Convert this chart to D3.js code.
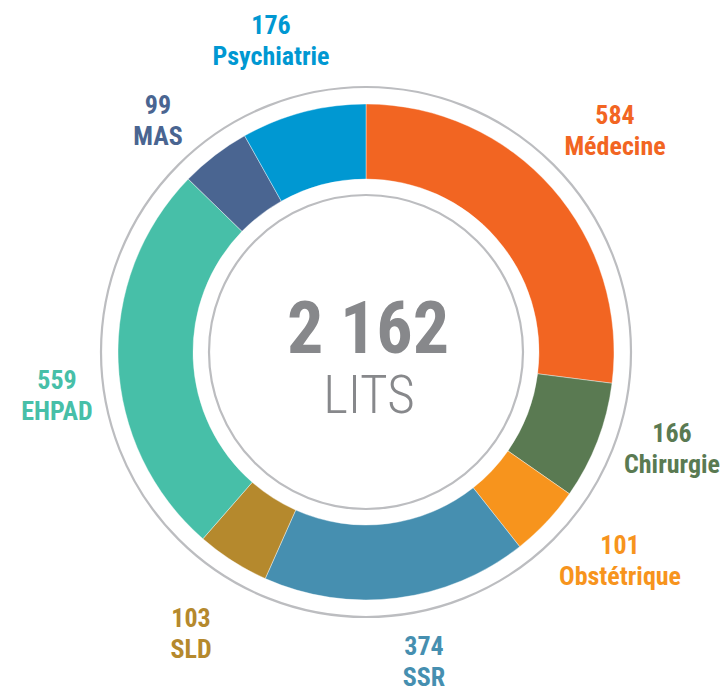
<!DOCTYPE html>
<html><head><meta charset="utf-8">
<script src="https://cdn.jsdelivr.net/npm/d3@7"></script>
<style>body{margin:0;background:#fff}svg{display:block}</style>
</head><body>
<svg id="c" width="726" height="692"></svg>
<script>
const categories = ["Médecine","Chirurgie","Obstétrique","SSR","SLD","EHPAD","MAS","Psychiatrie"];
const values = [584,166,101,374,103,559,99,176];
const colors = ["#F26522","#5A7A52","#F7941D","#468FB0","#B5892D","#47BFA8","#4A6591","#0098D2"];
const totalLabel = "2 162";
const unitLabel = "LITS";
// label anchor positions (x,y of number baseline)
const labelPos = [[615,124],[672,442],[620,554],[424,655],[191,627],[57,389],[158,114],[271,34]];

const svg = d3.select("#c");
const cx = 366, cy = 352;
const g = svg.append("g").attr("transform",`translate(${cx},${cy})`);
const font = "'Liberation Sans Narrow','Roboto Condensed','DejaVu Sans Condensed',sans-serif";

g.append("circle").attr("r",265).attr("fill","none").attr("stroke","#BCBDC0").attr("stroke-width",2.2);
g.append("circle").attr("r",157).attr("fill","none").attr("stroke","#BCBDC0").attr("stroke-width",2.2);

const pie = d3.pie().sort(null).value(d=>d)(values);
const arc = d3.arc().innerRadius(173).outerRadius(248);
g.selectAll("path.s").data(pie).join("path").attr("class","s")
  .attr("d",arc).attr("fill",(d,i)=>colors[i]).attr("stroke","#fff").attr("stroke-width",0.4);

g.append("text").attr("x",2).attr("y",1).attr("text-anchor","middle")
  .attr("font-family",font).attr("font-weight","bold").attr("font-size",72)
  .attr("fill","#87888B").text(totalLabel);
g.append("text").attr("x",3).attr("y",61).attr("text-anchor","middle")
  .attr("font-family",font).attr("font-weight",300).attr("font-size",53)
  .attr("fill","#87888B").text(unitLabel);

const lab = svg.selectAll("g.lab").data(categories).join("g").attr("class","lab")
  .attr("transform",(d,i)=>`translate(${labelPos[i][0]},${labelPos[i][1]})`)
  .attr("font-family",font).attr("font-weight","bold").attr("font-size",26)
  .attr("text-anchor","middle").attr("fill",(d,i)=>colors[i]);
lab.append("text").attr("y",0).text((d,i)=>values[i]);
lab.append("text").attr("y",31).text(d=>d);
</script>
</body></html>
